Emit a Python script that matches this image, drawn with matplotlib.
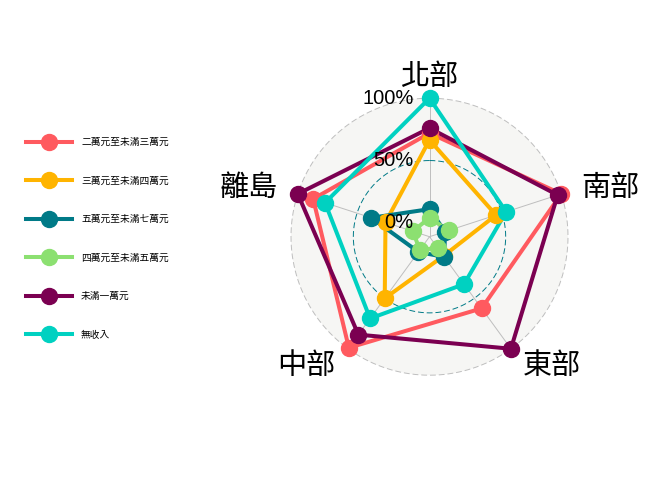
import numpy as np
import matplotlib
matplotlib.use('Agg')
import matplotlib.pyplot as plt
from matplotlib.lines import Line2D
from matplotlib.transforms import ScaledTranslation

# regions (axes of the radar), clockwise from top
regions = ['北部', '南部', '東部', '中部', '離島']

# income groups and their share per region (0..1)
groups = ['二萬元至未滿三萬元', '三萬元至未滿四萬元', '五萬元至未滿七萬元',
          '四萬元至未滿五萬元', '未滿一萬元', '無收入']
v_20k = [0.72, 1.00, 0.60, 0.99, 0.87]
v_30k = [0.665, 0.45, 0.08, 0.50, 0.26]
v_50k = [0.11, 0.02, 0.09, 0.04, 0.38]
v_40k = [0.04, 0.05, 0.00, 0.02, 0.03]
v_lt10k = [0.76, 0.97, 1.00, 0.86, 1.00]
v_none = [1.00, 0.535, 0.36, 0.70, 0.77]
values = [v_20k, v_30k, v_50k, v_40k, v_lt10k, v_none]

colors = ['#FF5A5F', '#FFB400', '#007A87', '#8CE071', '#7B0051', '#00D1C1']

grid_levels = [0, 0.5, 1.0]
grid_labels = ['0%', '50%', '100%']

cjk = ['Noto Sans CJK TC', 'DejaVu Sans']
offset = 1 / 9  # ggradar-style centre offset

fig = plt.figure(figsize=(6.72, 4.8), dpi=100)
ax = fig.add_axes([291 / 672, 104.8 / 480, 277 / 672, 277 / 480], projection='polar')
ax.set_theta_zero_location('N')
ax.set_theta_direction(-1)
ax.set_ylim(0, 1 + offset)
ax.set_facecolor('#F6F6F4')
ax.grid(False)
ax.set_xticks([])
ax.set_yticks([])
ax.spines['polar'].set_visible(False)

theta = np.linspace(0, 2 * np.pi, len(regions), endpoint=False)
circ = np.linspace(0, 2 * np.pi, 361)

# axis spokes
for t in theta:
    ax.plot([t, t], [0, 1 + offset], color='#BEBEBE', lw=0.7, zorder=1, clip_on=False)

# grid circles
for lev in grid_levels:
    col = '#007A87' if lev == 0.5 else '#BEBEBE'
    ax.plot(circ, np.full_like(circ, lev + offset), color=col, lw=0.7,
            ls=(0, (6, 3)), zorder=1, clip_on=False)

# grid labels left of the top spoke
shift = ScaledTranslation(-16 / 100, 0, fig.dpi_scale_trans)
for lev, lab in zip(grid_levels, grid_labels):
    ax.text(0, lev + offset, lab, ha='right', va='center', fontsize=14.5,
            family='Liberation Sans', transform=ax.transData + shift, zorder=6)

# region labels
for t, name in zip(theta, regions):
    s = np.sin(t)
    ha = 'left' if s > 0.01 else ('right' if s < -0.01 else 'center')
    ax.text(t, 1.15 * (1 + offset), name, ha=ha, va='center', fontsize=21,
            family=cjk, clip_on=False)

th_closed = np.append(theta, theta[0])
for vals, c in zip(values, colors):
    r = np.append(vals, vals[0]) + offset
    ax.plot(th_closed, r, color=c, lw=2.9, zorder=3, clip_on=False)
for vals, c in zip(values, colors):
    r = np.array(vals) + offset
    ax.plot(theta, r, 'o', color=c, ms=11.5, zorder=4, clip_on=False)

handles = [Line2D([], [], color=c, lw=2.9, marker='o', ms=11.5) for c in colors]
fig.legend(handles, groups, loc='center left', bbox_to_anchor=(26 / 672, 0.503),
           frameon=False, borderpad=0, borderaxespad=0,
           handlelength=4.73, handletextpad=0.93, labelspacing=2.93,
           prop={'family': cjk, 'size': 7})

fig.savefig('out.png', dpi=100)
